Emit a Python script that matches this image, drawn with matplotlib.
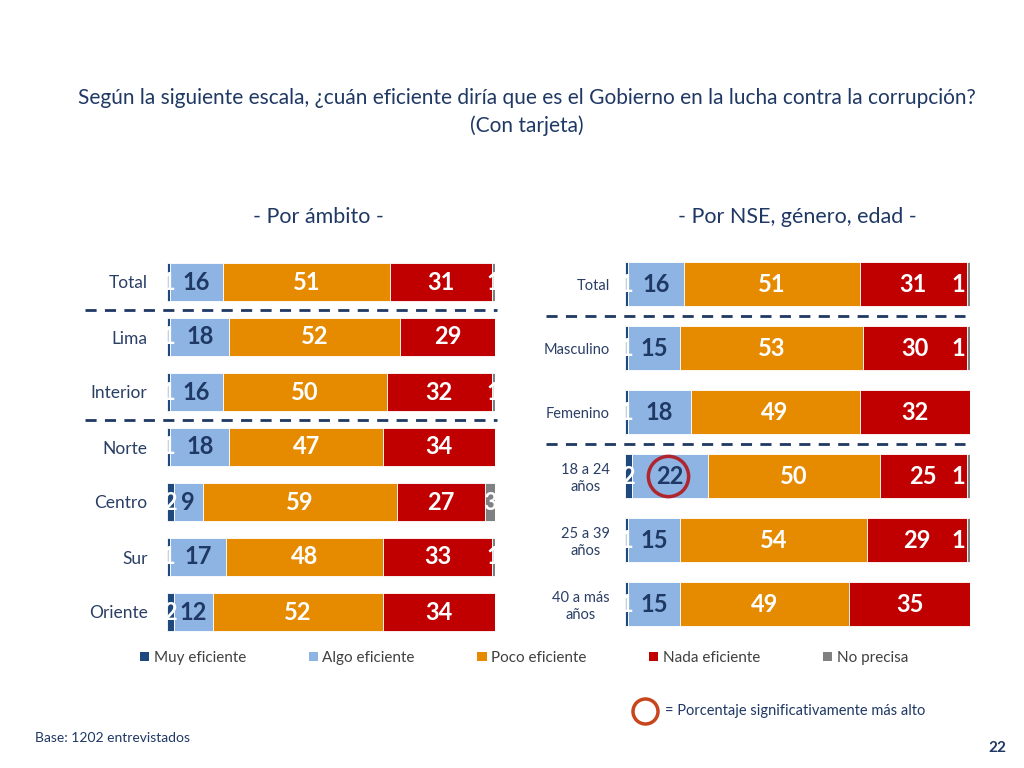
'''Stacked bars: eficiencia del Gobierno en la lucha contra la corrupción'''

import matplotlib
matplotlib.use("Agg")
import matplotlib.pyplot as plt
from matplotlib.patches import Patch
from matplotlib.lines import Line2D

plt.rcParams['font.family'] = ['Lato', 'DejaVu Sans']

# data
series = ["Muy eficiente", "Algo eficiente", "Poco eficiente",
          "Nada eficiente", "No precisa"]
colors = ["#1F497D", "#8EB4E3", "#E68A00", "#C00000", "#808080"]
label_colors = ["white", "#1F3864", "white", "white", "white"]

left_cats = ["Total", "Lima", "Interior", "Norte", "Centro", "Sur", "Oriente"]
left_muy = [1, 1, 1, 1, 2, 1, 2]
left_algo = [16, 18, 16, 18, 9, 17, 12]
left_poco = [51, 52, 50, 47, 59, 48, 52]
left_nada = [31, 29, 32, 34, 27, 33, 34]
left_np = [1, 0, 1, 0, 3, 1, 0]

right_cats = ["Total", "Masculino", "Femenino", "18 a 24\naños",
              "25 a 39\naños", "40 a más\naños"]
right_muy = [1, 1, 1, 2, 1, 1]
right_algo = [16, 15, 18, 22, 15, 15]
right_poco = [51, 53, 49, 50, 54, 49]
right_nada = [31, 30, 32, 25, 29, 35]
right_np = [1, 1, 0, 1, 1, 0]

navy = "#1F3864"
W, H = 1024, 768


def px_axes(fig, x0, x1, y0, y1):
    '''axes from pixel box (top-left origin)'''
    return fig.add_axes([x0 / W, 1 - y1 / H, (x1 - x0) / W, (y1 - y0) / H])


def plot_panel(ax, cats, cols, cat_size, dash_rows, dash_x, np_shift):
    n = len(cats)
    rows = list(range(n))
    left = [0] * n
    for k, vals in enumerate(cols):
        ax.barh(rows, vals, left=left, height=0.69, color=colors[k],
                edgecolor="white", linewidth=0.6)
        for i, v in enumerate(vals):
            if v <= 0:
                continue
            xc = left[i] + v / 2
            if k == 4:
                xc -= np_shift
            ax.text(xc, i, str(v), ha="center", va="center",
                    color=label_colors[k], fontsize=17, fontweight="bold")
        left = [a + b for a, b in zip(left, vals)]
    for r in dash_rows:
        ax.plot(dash_x, [r, r], color=navy, lw=2, ls=(0, (4, 3)),
                clip_on=False)
    ax.set_xlim(0, 100)
    ax.set_ylim(n - 0.5, -0.5)
    ax.set_yticks(rows)
    ax.set_yticklabels(cats, fontsize=cat_size, color="#2A3F66",
                       multialignment="center")
    ax.tick_params(axis="y", length=0, pad=14)
    ax.set_xticks([])
    for s in ax.spines.values():
        s.set_visible(False)


fig = plt.figure(figsize=(W / 100, H / 100), dpi=100)

ax1 = px_axes(fig, 167, 495, 254.5, 639.5)
plot_panel(ax1, left_cats,
           [left_muy, left_algo, left_poco, left_nada, left_np],
           12.5, [0.5, 2.5], [-25, 100.6], 0)

ax2 = px_axes(fig, 625, 970, 252, 636)
plot_panel(ax2, right_cats,
           [right_muy, right_algo, right_poco, right_nada, right_np],
           10.5, [0.5, 2.5], [-23, 98.6], 3)
ax2.tick_params(axis="y", pad=11)

# significance circle on 18 a 24 / Algo eficiente
ax2.plot([right_muy[3] + right_algo[3] / 2 - 0.5], [3], "o", ms=29,
         mfc="none", mec="#B0262E", mew=2.5)

fig.text(527 / W, 1 - 98 / H,
         "Según la siguiente escala, ¿cuán eficiente diría que es el Gobierno "
         "en la lucha contra la corrupción?",
         ha="center", va="center", fontsize=15, color=navy)
fig.text(527 / W, 1 - 126 / H, "(Con tarjeta)", ha="center", va="center",
         fontsize=15, color=navy)
fig.text(318 / W, 1 - 217 / H, "- Por ámbito -", ha="center", va="center",
         fontsize=15.5, color=navy)
fig.text(797 / W, 1 - 217 / H, "- Por NSE, género, edad -", ha="center",
         va="center", fontsize=15.5, color=navy)

handles = [Patch(facecolor=c, edgecolor="none") for c in colors]
fig.legend(handles, series, loc="center", bbox_to_anchor=(524 / W, 1 - 658 / H),
           ncol=5, frameon=False, fontsize=11, handlelength=0.6,
           handleheight=0.6, handletextpad=0.3, columnspacing=4.1,
           labelcolor="#404040")

fig.add_artist(Line2D([645 / W], [1 - 711 / H], marker="o", ms=18,
                      mfc="none", mec="#C8461E", mew=2.5,
                      transform=fig.transFigure))
fig.text(665 / W, 1 - 711 / H, "= Porcentaje significativamente más alto",
         ha="left", va="center", fontsize=10.5, color=navy)
fig.text(35 / W, 1 - 738 / H, "Base: 1202 entrevistados", ha="left",
         va="center", fontsize=10, color=navy)
fig.text(1006 / W, 1 - 748 / H, "22", ha="right", va="center", fontsize=11,
         fontweight="bold", color=navy)

fig.savefig("out.png", dpi=100)
